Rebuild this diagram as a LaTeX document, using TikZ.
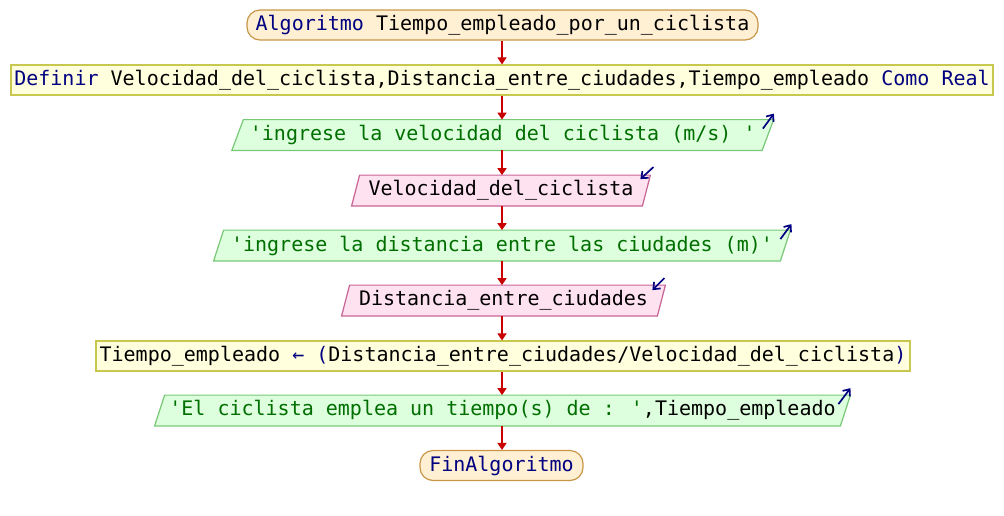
\documentclass[tikz,border=0pt]{standalone}
\usepackage{fontspec}
\usetikzlibrary{arrows.meta,backgrounds}
\newfontfamily\pmono{DejaVu Sans Mono}
\definecolor{kwblue}{RGB}{0,0,128}
\definecolor{strgreen}{RGB}{0,110,0}
\definecolor{flowred}{RGB}{200,0,0}
\definecolor{termfill}{RGB}{255,240,212}
\definecolor{termdraw}{RGB}{200,150,70}
\definecolor{procfill}{RGB}{255,255,221}
\definecolor{procdraw}{RGB}{200,200,80}
\definecolor{outfill}{RGB}{221,255,221}
\definecolor{outdraw}{RGB}{120,200,120}
\definecolor{infill}{RGB}{255,226,240}
\definecolor{indraw}{RGB}{200,100,150}
\newcommand\kw[1]{\textcolor{kwblue}{#1}}
\newcommand\strg[1]{\textcolor{strgreen}{#1}}
\newcommand\parashape[3]{%
  \path[#3] ([shift={(#2,0)}]#1.north west) -- ([shift={(#2,0)}]#1.north east)
    -- ([shift={(-#2,0)}]#1.south east) -- ([shift={(-#2,0)}]#1.south west) -- cycle;}
\tikzset{
  base/.style={font=\pmono\fontsize{10}{12}\selectfont, inner sep=0pt, minimum height=15pt, align=center},
  term/.style={base, draw=termdraw, fill=termfill, line width=0.6pt, rounded corners=6.5pt},
  proc/.style={base, draw=procdraw, fill=procfill, line width=0.6pt},
  io/.style={base, draw=none},
  outshape/.style={draw=outdraw, fill=outfill, line width=0.6pt},
  inshape/.style={draw=indraw, fill=infill, line width=0.6pt},
  flow/.style={draw=flowred, line width=0.8pt, -{Triangle[length=3.5pt,width=4.5pt]}},
  icon/.style={draw=kwblue, line width=0.85pt, -{Straight Barb[length=2.8pt,width=4.6pt]}}
}
\begin{document}
\begin{tikzpicture}[x=0.5pt,y=-0.5pt]
\useasboundingbox (0,0) rectangle (1004,515);
\node[term, minimum width=255.5pt] (start) at (502.5,25) {\kw{Algoritmo} Tiempo\_empleado\_por\_un\_ciclista};
\node[proc, minimum width=491pt] (def) at (502,80) {\kw{Definir} Velocidad\_del\_ciclista,Distancia\_entre\_ciudades,Tiempo\_empleado \kw{Como} \kw{Real}};
\node[io, minimum width=264.75pt] (out1) at (502.75,135) {\strg{'ingrese la velocidad del ciclista (m/s) '}};
\node[io, minimum width=145pt] (read1) at (501,190.5) {Velocidad\_del\_ciclista};
\node[io, minimum width=283pt] (out2) at (502,245.5) {\strg{'ingrese la distancia entre las ciudades (m)'}};
\node[io, minimum width=157.5pt] (read2) at (503.5,300.5) {Distancia\_entre\_ciudades};
\node[proc, minimum width=407pt] (asg) at (503,356) {Tiempo\_empleado \kw{←} \kw{(}Distancia\_entre\_ciudades/Velocidad\_del\_ciclista\kw{)}};
\node[io, minimum width=342.5pt] (out3) at (502.5,410.5) {\strg{'El ciclista emplea un tiempo(s) de : '},Tiempo\_empleado};
\node[term, minimum width=81.5pt] (fin) at (501.5,465.5) {\kw{FinAlgoritmo}};
\begin{scope}[on background layer]
\parashape{out1}{5.75}{outshape}
\parashape{read1}{4}{inshape}
\parashape{out2}{5}{outshape}
\parashape{read2}{4}{inshape}
\parashape{out3}{5}{outshape}
\end{scope}
\draw[flow] (start.south -| 502,0) -- (def.north -| 502,0);
\draw[flow] (def.south -| 502,0) -- (out1.north -| 502,0);
\draw[flow] (out1.south -| 502,0) -- (read1.north -| 502,0);
\draw[flow] (read1.south -| 502,0) -- (out2.north -| 502,0);
\draw[flow] (out2.south -| 502,0) -- (read2.north -| 502,0);
\draw[flow] (read2.south -| 502,0) -- (asg.north -| 502,0);
\draw[flow] (asg.south -| 502,0) -- (out3.north -| 502,0);
\draw[flow] (out3.south -| 502,0) -- (fin.north -| 502,0);
\draw[icon] ([shift={(-5,9)}]out1.north east) -- ([shift={(6,-6)}]out1.north east);
\draw[icon] ([shift={(7,-8)}]read1.north east) -- ([shift={(-6,4)}]read1.north east);
\draw[icon] ([shift={(-5,9)}]out2.north east) -- ([shift={(6,-6)}]out2.north east);
\draw[icon] ([shift={(3,-7)}]read2.north east) -- ([shift={(-9,5)}]read2.north east);
\draw[icon] ([shift={(-7,9)}]out3.north east) -- ([shift={(5,-7)}]out3.north east);
\end{tikzpicture}
\end{document}
